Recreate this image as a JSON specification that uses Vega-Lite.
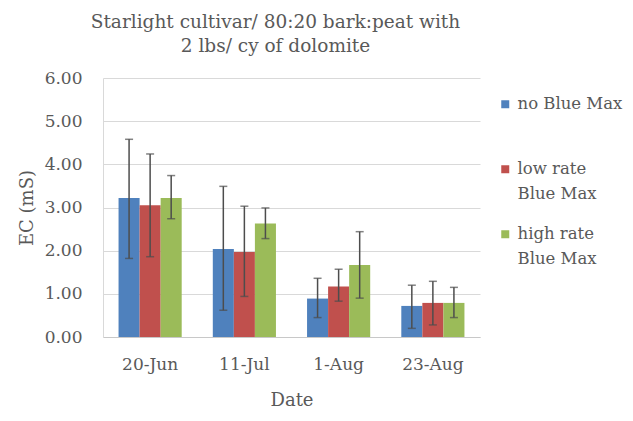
{
  "$schema": "https://vega.github.io/schema/vega-lite/v6.json",
  "width": 377,
  "height": 259,
  "autosize": {"type": "none"},
  "padding": {"left": 103, "top": 78, "right": 153, "bottom": 84},
  "background": "white",
  "title": {
    "text": ["Starlight cultivar/ 80:20 bark:peat with", "2 lbs/ cy of dolomite"],
    "font": "DejaVu Serif",
    "fontSize": 18.5,
    "fontWeight": "normal",
    "color": "#595959",
    "lineHeight": 24,
    "anchor": "middle",
    "dx": -16,
    "offset": 14
  },
  "data": {
    "values": [
      {"date": "20-Jun", "series": "no Blue Max", "value": 3.22, "lo": 1.82, "hi": 4.58},
      {"date": "20-Jun", "series": "low rate Blue Max", "value": 3.05, "lo": 1.86, "hi": 4.24},
      {"date": "20-Jun", "series": "high rate Blue Max", "value": 3.22, "lo": 2.74, "hi": 3.74},
      {"date": "11-Jul", "series": "no Blue Max", "value": 2.04, "lo": 0.62, "hi": 3.49},
      {"date": "11-Jul", "series": "low rate Blue Max", "value": 1.97, "lo": 0.94, "hi": 3.03},
      {"date": "11-Jul", "series": "high rate Blue Max", "value": 2.63, "lo": 2.28, "hi": 2.99},
      {"date": "1-Aug", "series": "no Blue Max", "value": 0.89, "lo": 0.45, "hi": 1.36},
      {"date": "1-Aug", "series": "low rate Blue Max", "value": 1.17, "lo": 0.83, "hi": 1.57},
      {"date": "1-Aug", "series": "high rate Blue Max", "value": 1.67, "lo": 0.90, "hi": 2.44},
      {"date": "23-Aug", "series": "no Blue Max", "value": 0.72, "lo": 0.20, "hi": 1.20},
      {"date": "23-Aug", "series": "low rate Blue Max", "value": 0.79, "lo": 0.28, "hi": 1.29},
      {"date": "23-Aug", "series": "high rate Blue Max", "value": 0.79, "lo": 0.45, "hi": 1.15}
    ]
  },
  "encoding": {
    "x": {
      "field": "date",
      "type": "nominal",
      "sort": ["20-Jun", "11-Jul", "1-Aug", "23-Aug"],
      "scale": {"paddingInner": 0.33, "paddingOuter": 0.165},
      "axis": {
        "title": "Date",
        "labelAngle": 0,
        "ticks": false,
        "labelPadding": 19,
        "titlePadding": 19,
        "domainColor": "#c8c8c8",
        "grid": false
      }
    },
    "xOffset": {
      "field": "series",
      "type": "nominal",
      "sort": ["no Blue Max", "low rate Blue Max", "high rate Blue Max"],
      "scale": {"paddingInner": 0, "paddingOuter": 0}
    }
  },
  "layer": [
    {
      "mark": {"type": "bar"},
      "encoding": {
        "y": {
          "field": "value",
          "type": "quantitative",
          "scale": {"domain": [0, 6]},
          "axis": {
            "title": "EC (mS)",
            "tickCount": 6,
            "format": ".2f",
            "ticks": false,
            "labelPadding": 21,
            "titlePadding": 8,
            "domainColor": "#d9d9d9",
            "gridColor": "#d9d9d9"
          }
        },
        "color": {
          "field": "series",
          "type": "nominal",
          "sort": ["no Blue Max", "low rate Blue Max", "high rate Blue Max"],
          "scale": {
            "domain": ["no Blue Max", "low rate Blue Max", "high rate Blue Max"],
            "range": ["#4f81bd", "#c0504d", "#9bbb59"]
          },
          "legend": {
            "title": null,
            "orient": "none",
            "legendX": 394,
            "legendY": 18,
            "symbolType": "square",
            "symbolSize": 64,
            "symbolStrokeWidth": 0,
            "labelFont": "DejaVu Serif",
            "labelFontSize": 16.5,
            "labelColor": "#595959",
            "labelOffset": 4,
            "labelLimit": 200,
            "rowPadding": 23,
            "labelExpr": "datum.value == 'low rate Blue Max' ? ['low rate', 'Blue Max'] : datum.value == 'high rate Blue Max' ? ['high rate', 'Blue Max'] : [datum.label, '']"
          }
        }
      }
    },
    {
      "mark": {"type": "rule", "color": "#4d4d4d", "strokeWidth": 1.5},
      "encoding": {
        "y": {"field": "lo", "type": "quantitative"},
        "y2": {"field": "hi"}
      }
    },
    {
      "mark": {"type": "tick", "color": "#4d4d4d", "thickness": 1.5, "size": 8},
      "encoding": {"y": {"field": "lo", "type": "quantitative"}}
    },
    {
      "mark": {"type": "tick", "color": "#4d4d4d", "thickness": 1.5, "size": 8},
      "encoding": {"y": {"field": "hi", "type": "quantitative"}}
    }
  ],
  "config": {
    "view": {"stroke": null},
    "style": {"guide-label": {"lineHeight": 25}},
    "axis": {
      "labelFont": "DejaVu Serif",
      "labelFontSize": 17,
      "labelColor": "#595959",
      "titleFont": "DejaVu Serif",
      "titleFontSize": 18,
      "titleFontWeight": "normal",
      "titleColor": "#595959",
      "gridColor": "#d9d9d9"
    }
  }
}
